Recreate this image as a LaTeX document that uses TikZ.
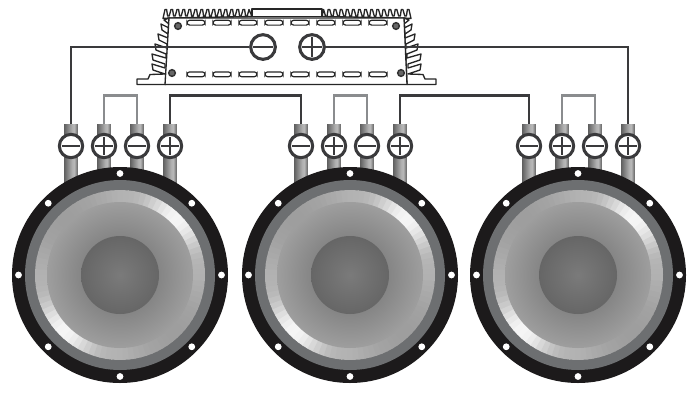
\documentclass[tikz,border=0pt]{standalone}
\usetikzlibrary{calc}
\definecolor{wdark}{HTML}{3A3A3C}
\definecolor{wgrey}{HTML}{8A8C8E}
\definecolor{ring}{HTML}{6D6F71}
\definecolor{blk}{HTML}{1C1A1B}
\pgfdeclarehorizontalshading{postshade}{100bp}{color(0bp)=(black!62);color(25bp)=(black!62);color(55bp)=(black!30);color(62bp)=(black!28);color(75bp)=(black!62);color(100bp)=(black!62)}
\pgfdeclareradialshading{coneshade}{\pgfpoint{0bp}{0bp}}{color(0bp)=(black!49);color(13bp)=(black!48);color(25bp)=(black!38);color(50bp)=(black!38)}
\pgfdeclareradialshading{domeshade}{\pgfpoint{0bp}{0bp}}{color(0bp)=(black!52);color(25bp)=(black!60);color(50bp)=(black!60)}
\tikzset{
  wirethick/.style={draw=wdark,line width=2pt,line join=miter},
  wirelink/.style={draw=wgrey,line width=1.9pt,line join=miter},
  barline/.style={draw=wdark,line width=2.1pt},
  ampline/.style={draw=black!85,line width=1pt,line join=round},
  slot/.style={draw=black!85,fill=white,line width=0.9pt,rounded corners=2pt,minimum width=13.5pt,minimum height=3.6pt,inner sep=0pt,shape=rectangle},
  screw/.style={circle,draw=black!80,fill=black!60,line width=1.1pt,minimum size=5pt,inner sep=0pt},
  term/.style={circle,draw=wdark,fill=white,line width=2.3pt,minimum size=17.5pt,inner sep=0pt},
  ampterm/.style={circle,draw=wdark,fill=white,line width=2.3pt,minimum size=18.5pt,inner sep=0pt},
  postbar/.style={shading=postshade,minimum width=10.2pt,inner sep=0pt,shape=rectangle},
}
\newcommand{\sidefins}{%
  \draw[ampline,fill=white] (166,84.5) -- (137,84.5) -- (137,79) -- (148,79) -- (150,74.5)
   -- (165,74) -- (153,70) -- (152,64) -- (165,68)
   -- (165,64) -- (153,60) -- (152,54) -- (166,58)
   -- (166,54) -- (156,50) -- (155,44) -- (167,48)
   -- (167,44) -- (159,40) -- (158,34) -- (168,38)
   -- (168,34) -- (162,30) -- (161,24) -- (169,28)
   -- (169,24) -- (164,20) -- (169,18) -- cycle;}
\begin{document}
\begin{tikzpicture}[x=0.75pt,y=-0.75pt]
\useasboundingbox (0,0) rectangle (698,415);
% amplifier
\draw[ampline,fill=white] (252,9) rectangle (322,16.5);
\draw[ampline,fill=white] (163,18.5) -- (165,9.5)
  \foreach \i in {0,...,13}{ -- ++(1.6,0) -- ++(1,6.5) -- ++(1.6,0) -- ++(1.8,-6.5) }
  -- (252,16.5) -- (169,18) -- cycle;
\draw[ampline,fill=white] (411,18.5) -- (409,9.5)
  \foreach \i in {0,...,13}{ -- ++(-1.6,0) -- ++(-1,6.5) -- ++(-1.6,0) -- ++(-1.9,-6.5) }
  -- (322,16.5) -- (404,18) -- cycle;
\sidefins
\begin{scope}[shift={(573,0)},xscale=-1]
  \sidefins
\end{scope}
\draw[ampline,fill=white] (169,18) -- (404,18) -- (407,84.5) -- (165,84.5) -- cycle;
\foreach \x [count=\k] in {196,222,248,274,300,326,352,378}{
  \node[slot] (st\k) at (\x,22.7) {};
  \node[slot] (sb\k) at (\x,74.3) {};
}
\node[screw] (s1) at (178,26) {};
\node[screw] (s2) at (396,26) {};
\node[screw] (s3) at (172,73) {};
\node[screw] (s4) at (401,73) {};
% coordinates of the terminals
\foreach \sp/\base in {1/71,2/301,3/529}{
  \foreach \j/\off in {1/0,2/33,3/66,4/99}{
    \coordinate (c\sp\j) at ({\base+\off},146);
  }
}
\node[ampterm] (aminus) at (263,47) {};
\node[ampterm] (aplus) at (312,47) {};
% wires
\draw[wirethick] (aminus) -- (c11 |- aminus) -- (c11);
\draw[wirethick] (aplus) -- (c34 |- aplus) -- (c34);
\draw[wirethick] (c14) -- ($(c14)+(0,-50.5)$) -| (c21);
\draw[wirethick] (c24) -- ($(c24)+(0,-50.5)$) -| (c31);
\foreach \sp in {1,2,3}{
  \draw[wirelink] (c\sp2) -- ($(c\sp2)+(0,-50.5)$) -| (c\sp3);
}
\draw[barline] ($(aminus)+(-10,0)$) -- ($(aminus)+(10,0)$);
\draw[barline] ($(aplus)+(-10,0)$) -- ($(aplus)+(10,0)$) ($(aplus)+(0,-10)$) -- ($(aplus)+(0,10)$);
% posts
\foreach \sp in {1,2,3}{
  \foreach \j/\h in {1/59,2/45,3/45,4/59}{
    \node[postbar,minimum height=\h*0.75pt,anchor=north] (p\sp\j) at ($(c\sp\j)+(0,-22)$) {};
  }
}
% speakers
\foreach \cx/\n in {120/1,350/2,578/3}{
  \coordinate (sc\n) at (\cx,275);
  \fill[blk] (sc\n) circle (108);
  \fill[ring] (sc\n) circle (95);
  \foreach \a in {0,4,...,356}{
    \pgfmathsetmacro{\cv}{cos(2*(\a+2-45))}
    \pgfmathsetmacro{\v}{\cv>0 ? 30-26*\cv*\cv*\cv : 30-8*\cv}
    \fill[black!\v] ($(sc\n)+({85*cos(\a)},{-85*sin(\a)})$) -- ($(sc\n)+({85*cos(\a+4.6)},{-85*sin(\a+4.6)})$)
      -- ($(sc\n)+({72*cos(\a+4.6)},{-72*sin(\a+4.6)})$) -- ($(sc\n)+({72*cos(\a)},{-72*sin(\a)})$) -- cycle;
  }
  \path[shading=coneshade] (sc\n) circle (73);
  \path[shading=domeshade] (sc\n) circle (39);
  \foreach \a in {0,45,...,315}{
    \fill[white] ($(sc\n)+({\a}:101.5)$) circle (3.4);
  }
}
% terminals
\foreach \sp in {1,2,3}{
  \foreach \j in {1,2,3,4}{
    \node[term] (t\sp\j) at (c\sp\j) {};
    \draw[barline] ($(c\sp\j)+(-9,0)$) -- ($(c\sp\j)+(9,0)$);
  }
  \foreach \j in {2,4}{
    \draw[barline] ($(c\sp\j)+(0,-9)$) -- ($(c\sp\j)+(0,9)$);
  }
}
\end{tikzpicture}
\end{document}
